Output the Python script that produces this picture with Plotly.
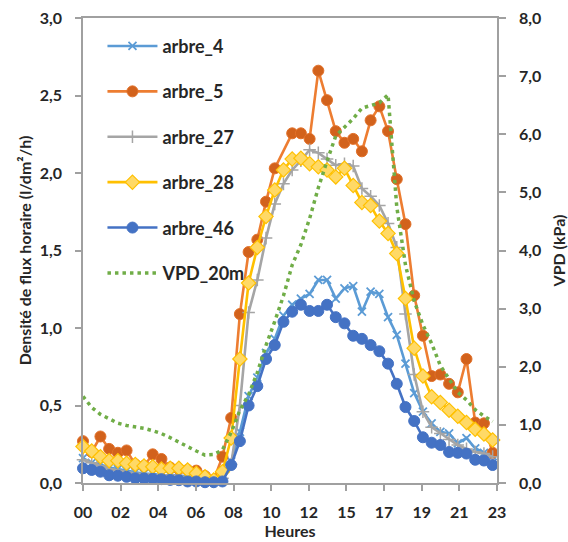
import plotly.graph_objects as go

# Half-hourly timestamps
times = ["00:00","00:30","01:00","01:30","02:00","02:30","03:00","03:30","04:00","04:30",
         "05:00","05:30","06:00","06:30","07:00","07:30","08:00","08:30","09:00","09:30",
         "10:00","10:30","11:00","11:30","12:00","12:30","13:00","13:30","14:00","14:30",
         "15:00","15:30","16:00","16:30","17:00","17:30","18:00","18:30","19:00","19:30",
         "20:00","20:30","21:00","21:30","22:00","22:30","23:00","23:30"]

tick_labels = ["00","02","04","06","08","10","12","15","17","19","21","23"]

arbre_4 = [0.16,0.13,0.12,0.10,0.09,0.08,0.07,0.06,0.06,0.05,0.05,0.05,0.04,0.04,0.03,0.02,
           0.03,0.14,0.33,0.56,0.68,0.84,0.93,1.08,1.15,1.19,1.22,1.31,1.31,1.19,1.256,1.27,
           1.105,1.234,1.22,1.07,0.955,0.77,0.58,0.46,0.385,0.33,0.32,0.256,0.29,0.224,0.195,0.174]

arbre_5 = [0.27,0.20,0.30,0.22,0.195,0.21,0.12,0.11,0.185,0.155,0.10,0.09,0.085,0.08,0.045,0.02,
           0.17,0.42,1.09,1.49,1.57,1.815,2.03,None,2.256,2.256,2.22,2.66,2.47,2.27,2.195,2.22,
           2.14,2.34,2.43,2.27,1.96,1.67,1.21,0.95,0.69,0.70,0.64,0.585,0.80,0.39,0.385,0.195]

arbre_27 = [0.15,0.13,0.11,0.09,0.08,0.07,0.06,0.06,0.05,0.05,0.05,0.04,0.04,0.03,0.02,0.02,
            0.03,0.12,0.50,1.10,1.31,1.58,1.80,1.93,2.02,2.08,2.15,2.13,2.09,2.05,2.06,2.045,
            1.90,1.85,1.79,1.675,1.52,1.09,0.70,0.46,0.36,0.32,0.28,0.245,0.22,0.20,0.19,0.17]

arbre_28 = [0.235,0.206,0.17,0.144,0.144,0.127,0.12,0.11,0.105,0.09,0.095,0.095,0.084,0.063,0.04,0.02,
            0.073,0.29,0.80,1.29,1.52,1.72,1.89,2.02,2.09,2.095,2.06,2.04,2.02,1.975,2.03,1.92,
            1.81,1.79,1.69,1.61,1.48,1.19,0.87,0.69,0.557,0.52,0.47,0.43,0.39,0.346,0.316,0.277]

arbre_46 = [0.095,0.084,0.073,0.05,0.047,0.04,0.03,0.03,0.027,0.025,0.02,0.018,0.01,0.01,0.005,0.005,
            0.01,0.116,0.27,0.50,0.625,0.80,0.89,1.04,1.105,1.15,1.11,1.11,1.15,1.07,1.03,0.95,
            0.93,0.89,0.85,0.77,0.64,0.49,0.40,0.295,0.26,0.245,0.20,0.195,0.19,0.15,0.145,0.116]

vpd_20m = [1.49,1.30,1.18,1.10,1.03,0.99,0.97,0.94,0.90,0.85,0.78,0.70,0.63,0.55,0.48,0.49,
           0.57,0.87,1.25,1.52,1.90,2.37,2.78,3.22,3.75,4.10,4.55,5.08,5.54,5.97,6.12,6.27,
           6.45,6.49,6.54,6.68,4.75,3.75,3.13,2.72,2.40,2.02,1.78,1.56,1.43,1.26,1.15,1.06]

hours = [int(t[:2]) + int(t[3:]) / 60 for t in times]
x_max = 23.75
tick_pos = [k * x_max / (len(tick_labels) - 1) for k in range(len(tick_labels))]

FONT = "Lato"
TXT = "#262626"
AX = "#A0A0A0"

fig = go.Figure()

def add(name, y, line_color, symbol, msize, mcolor, mline_color=None, mline_w=0, lw=2.6):
    fig.add_trace(go.Scatter(
        x=hours, y=y, name=name, mode="lines+markers", legendgroup=name,
        line=dict(color=line_color, width=lw), connectgaps=True,
        marker=dict(symbol=symbol, size=msize, color=mcolor,
                    line=dict(color=mline_color or mcolor, width=mline_w)),
        cliponaxis=False))

add("arbre_4", arbre_4, "#5B9BD5", "x-thin", 8, "#5B9BD5", "#5B9BD5", 1.8)
add("arbre_5", arbre_5, "#ED7D31", "circle", 11, "#D2621C", "#E27028", 1)
add("arbre_27", arbre_27, "#A5A5A5", "cross-thin", 9, "#A5A5A5", "#A5A5A5", 1.5)
add("arbre_28", arbre_28, "#FFC000", "diamond", 11, "#FFD966", "#FFC000", 1.2)
add("arbre_46", arbre_46, "#4472C4", "circle", 11, "#4472C4", "#4472C4", 1)

fig.add_trace(go.Scatter(
    x=hours, y=vpd_20m, name="VPD_20m", mode="lines", legendgroup="VPD_20m",
    line=dict(color="#70AD47", width=3.5, dash="3.5px,4px"),
    yaxis="y2", cliponaxis=False))

tf = dict(family=FONT, size=16, color=TXT, weight="bold")

fig.update_layout(
    width=568, height=542,
    margin=dict(l=83, r=71, t=18, b=59),
    paper_bgcolor="white", plot_bgcolor="white",
    separators=", ",
    font=dict(family=FONT, size=15, color=TXT, weight="bold"),
    showlegend=True,
    legend=dict(x=0.047, y=0.979, xanchor="left", yanchor="top",
                bgcolor="rgba(0,0,0,0)", font=dict(family=FONT, size=18, color=TXT, weight="bold"),
                tracegroupgap=19, itemwidth=50),
    xaxis=dict(range=[0, x_max], tickvals=tick_pos, ticktext=tick_labels, automargin=False,
               showgrid=False, zeroline=False, showline=True, linecolor=AX, linewidth=1.5,
               mirror=True, ticks="outside", ticklen=6, tickcolor=AX, tickwidth=1.5,
               ticklabelstandoff=8, tickfont=tf,
               title=dict(text="Heures", font=tf, standoff=6)),
    yaxis=dict(range=[0, 3], dtick=0.5, tickformat=".1f", automargin=False,
               showgrid=False, zeroline=False, showline=True, linecolor=AX, linewidth=1.5,
               ticks="outside", ticklen=6, tickcolor=AX, tickwidth=1.5,
               ticklabelstandoff=10, tickfont=tf,
               title=dict(text="Densité de flux horaire (l/dm²/h)", font=tf, standoff=4)),
    yaxis2=dict(range=[0, 8], dtick=1, tickformat=".1f", overlaying="y", side="right",
                automargin=False,
                showgrid=False, zeroline=False, showline=True, linecolor=AX, linewidth=1.5,
                ticks="outside", ticklen=7, tickcolor=AX, tickwidth=1.5,
                ticklabelstandoff=10, tickfont=tf,
                title=dict(text="VPD (kPa)", font=tf, standoff=36)),
)

fig.write_html("out.html", config={"displayModeBar": False},
               post_script="document.body.style.margin='0px';")
